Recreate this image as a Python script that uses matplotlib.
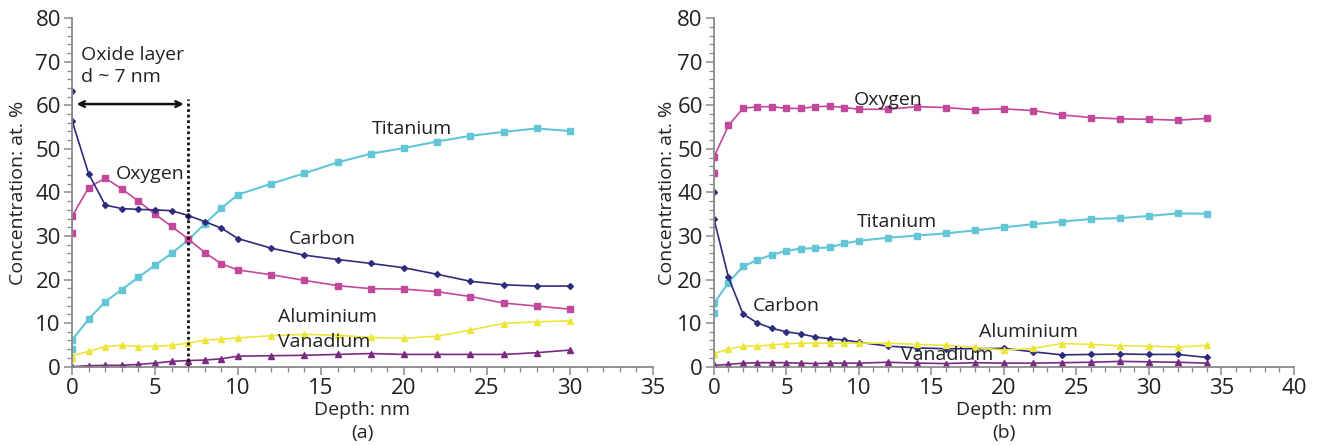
import numpy as np
import matplotlib.pyplot as plt
from matplotlib.ticker import MultipleLocator

plt.rcParams['font.family'] = ['Open Sans', 'DejaVu Sans']

# panel (a) - depth points (first depth repeated: two readings at surface)
depth_a = [0, 0, 1, 2, 3, 4, 5, 6, 7, 8, 9, 10, 12, 14, 16, 18, 20, 22, 24, 26, 28, 30]
carbon_a = [63.2, 56.5, 44.3, 37.1, 36.3, 36.1, 36.0, 35.8, 34.7, 33.3, 31.8, 29.4,
            27.2, 25.6, 24.6, 23.7, 22.7, 21.2, 19.6, 18.8, 18.5, 18.5]
oxygen_a = [30.8, 34.5, 41.1, 43.3, 40.8, 38.0, 35.0, 32.2, 29.3, 26.2, 23.6, 22.2,
            21.1, 19.8, 18.6, 17.9, 17.8, 17.2, 16.1, 14.6, 13.9, 13.2]
titanium_a = [4.0, 6.1, 10.9, 14.9, 17.7, 20.5, 23.3, 26.0, 29.1, 32.8, 36.4, 39.5,
              42.0, 44.4, 46.9, 48.9, 50.2, 51.7, 53.0, 53.9, 54.7, 54.1]
aluminium_a = [2.0, 2.5, 3.5, 4.6, 4.9, 4.6, 4.7, 4.9, 5.4, 6.1, 6.3, 6.6,
               7.1, 7.4, 7.2, 6.7, 6.5, 7.0, 8.4, 9.9, 10.3, 10.5]
vanadium_a = [0.0, 0.0, 0.2, 0.3, 0.3, 0.5, 0.8, 1.2, 1.4, 1.5, 1.8, 2.4,
              2.5, 2.6, 2.8, 3.0, 2.8, 2.8, 2.8, 2.8, 3.2, 3.8]

# panel (b)
depth_b = [0, 0, 1, 2, 3, 4, 5, 6, 7, 8, 9, 10, 12, 14, 16, 18, 20, 22, 24, 26, 28, 30, 32, 34]
oxygen_b = [44.4, 48.1, 55.4, 59.3, 59.7, 59.7, 59.3, 59.3, 59.7, 59.8, 59.5, 59.1,
            59.1, 59.7, 59.5, 59.0, 59.2, 58.8, 57.8, 57.2, 56.9, 56.8, 56.6, 57.0]
titanium_b = [12.3, 14.5, 19.3, 23.0, 24.5, 25.7, 26.6, 27.1, 27.2, 27.4, 28.3, 28.9,
              29.6, 30.1, 30.6, 31.3, 32.0, 32.7, 33.3, 33.9, 34.1, 34.6, 35.2, 35.1]
carbon_b = [40.0, 33.9, 20.5, 12.1, 10.0, 8.8, 8.0, 7.5, 6.8, 6.4, 6.1, 5.6,
            4.7, 4.3, 4.1, 4.1, 4.2, 3.4, 2.7, 2.8, 2.9, 2.8, 2.8, 2.1]
aluminium_b = [3.0, 3.0, 4.0, 4.7, 4.7, 5.0, 5.2, 5.4, 5.4, 5.4, 5.4, 5.4,
               5.4, 5.1, 4.9, 4.4, 3.8, 4.2, 5.3, 5.1, 4.8, 4.7, 4.5, 4.9]
vanadium_b = [0.3, 0.3, 0.5, 0.8, 0.9, 0.9, 0.9, 0.8, 0.7, 0.8, 0.8, 0.8,
              1.0, 0.8, 0.7, 0.9, 0.8, 0.8, 0.9, 1.0, 1.2, 1.1, 1.0, 0.8]

c_carbon = '#2e2c7c'
c_oxygen = '#c2489c'
c_titanium = '#62c6d6'
c_aluminium = '#ece63a'
c_vanadium = '#7b2a83'
axis_col = '#8a8a8a'
txt_col = '#222222'
fs = 14

fig = plt.figure(figsize=(13.19, 4.46), dpi=100)
ax1 = fig.add_axes([0.0546, 0.178, 0.4405, 0.781])
ax2 = fig.add_axes([0.5413, 0.178, 0.4397, 0.781])


def draw(ax, x, c, o, t, al, v):
    ax.plot(x, t, '-s', color=c_titanium, ms=4.5, lw=1.5)
    ax.plot(x, o, '-s', color=c_oxygen, ms=4.5, lw=1.2)
    ax.plot(x, c, '-D', color=c_carbon, ms=3, lw=1.2)
    ax.plot(x, al, '-^', color=c_aluminium, ms=4, lw=1.2)
    ax.plot(x, v, '-^', color=c_vanadium, ms=4.5, lw=1.2)


def style(ax, xmax, label, ylab_x):
    ax.set_ylim(0, 80)
    ax.set_xlim(0, xmax)
    for s in ['top', 'right']:
        ax.spines[s].set_visible(False)
    for s in ['left', 'bottom']:
        ax.spines[s].set_color(axis_col)
        ax.spines[s].set_linewidth(1.3)
    ax.xaxis.set_major_locator(MultipleLocator(5))
    ax.xaxis.set_minor_locator(MultipleLocator(1))
    ax.yaxis.set_major_locator(MultipleLocator(10))
    ax.yaxis.set_minor_locator(MultipleLocator(2))
    ax.tick_params(which='major', length=6, width=1.1, color=axis_col,
                   labelsize=16, labelcolor=txt_col, pad=2)
    ax.tick_params(which='minor', length=3.5, width=0.9, color=axis_col)
    ax.set_xlabel('Depth: nm', fontsize=fs, color=txt_col, va='center')
    ax.xaxis.set_label_coords(0.5, -0.124)
    ax.set_ylabel('Concentration: at. %', fontsize=fs, color=txt_col, va='center')
    ax.yaxis.set_label_coords(ylab_x, 0.5)
    ax.text(0.5, -0.19, label, transform=ax.transAxes, ha='center', va='center',
            fontsize=fs, color=txt_col)


draw(ax1, depth_a, carbon_a, oxygen_a, titanium_a, aluminium_a, vanadium_a)
draw(ax2, depth_b, carbon_b, oxygen_b, titanium_b, aluminium_b, vanadium_b)
style(ax1, 35, '(a)', -0.093)
style(ax2, 40, '(b)', -0.081)

# oxide layer annotation
ax1.plot([7, 7], [0, 61.5], ls=(0, (1, 1)), color='#111111', lw=2)
ax1.annotate('', xy=(0.1, 60.3), xytext=(6.9, 60.3),
             arrowprops=dict(arrowstyle='<->', color='#111111', lw=1.8))
ax1.text(0.55, 64.5, 'Oxide layer\nd ~ 7 nm', fontsize=fs, color=txt_col,
         va='bottom', ha='left', linespacing=1.25)

lbl = dict(fontsize=fs, color=txt_col, ha='center', va='center')
ax1.text(20.5, 54.5, 'Titanium', **lbl)
ax1.text(4.7, 44.3, 'Oxygen', **lbl)
ax1.text(15.1, 29.4, 'Carbon', **lbl)
ax1.text(15.4, 11.3, 'Aluminium', **lbl)
ax1.text(15.2, 5.6, 'Vanadium', **lbl)

ax2.text(12.0, 61.2, 'Oxygen', **lbl)
ax2.text(12.6, 33.2, 'Titanium', **lbl)
ax2.text(5.0, 14.0, 'Carbon', **lbl)
ax2.text(21.7, 8.0, 'Aluminium', **lbl)
ax2.text(16.1, 2.6, 'Vanadium', **lbl)

fig.savefig('out.png', dpi=100)
